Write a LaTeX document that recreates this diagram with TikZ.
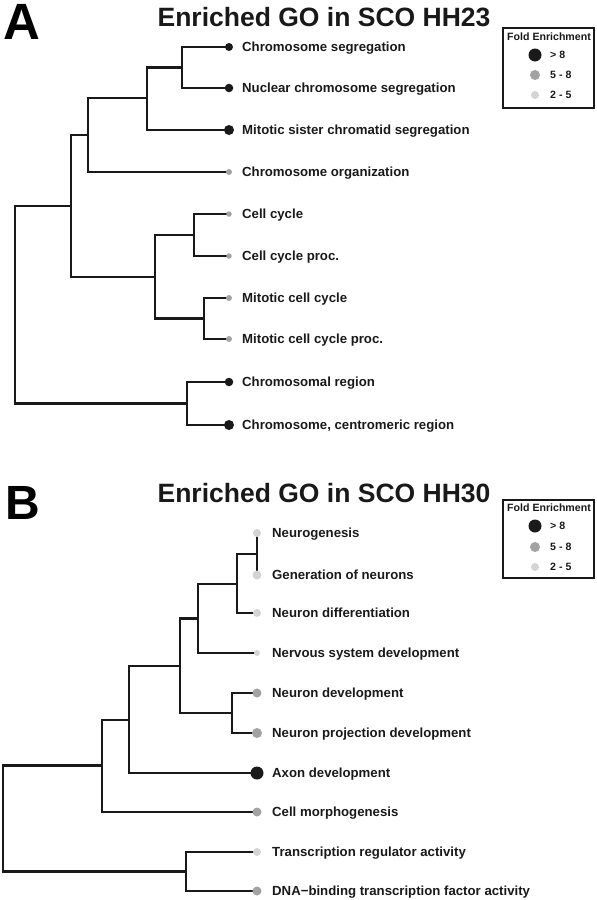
\documentclass[tikz,border=0pt]{standalone}
\usepackage{fontspec}
\setmainfont{Liberation Sans}
\usetikzlibrary{positioning,backgrounds}
\definecolor{fcHi}{HTML}{1A1A1A}
\definecolor{fcMid}{HTML}{A3A3A3}
\definecolor{fcLow}{HTML}{D4D4D4}
\tikzset{
  branch/.style={line width=2.3pt, black!90, line cap=rect},
  leafdot/.style={circle, inner sep=0pt, minimum size=#1},
  term/.style={font=\bfseries\fontsize{13.2}{14}\selectfont, text=black!90,
    inner sep=0pt, text height=9.5pt, text depth=0pt, anchor=west},
  heading/.style={font=\bfseries\fontsize{26.5}{28}\selectfont, text=black!90,
    inner sep=0pt, text height=19pt, text depth=0pt},
  panel/.style={font=\bfseries\fontsize{#1}{#1}\selectfont, inner sep=0pt,
    text height=0.716*#1 pt, text depth=0pt},
  legframe/.style={line width=2pt, black!90},
  keyhead/.style={font=\bfseries\fontsize{10.6}{12}\selectfont, text=black!90,
    inner sep=0pt, text height=7.6pt, text depth=0pt},
  keytext/.style={font=\bfseries\fontsize{10.6}{12}\selectfont, text=black!90,
    inner sep=0pt, text height=7.6pt, text depth=0pt, anchor=west}
}
\begin{document}
\begin{tikzpicture}[x=1pt, y=-1pt]
\useasboundingbox (0,0) rectangle (597,900);

% Panel A
\node[panel=51] (letA) at (21.5,21) {A};
\node[heading] (titleA) at (324,17) {Enriched GO in SCO HH23};

\node[leafdot=8pt, fill=fcHi] (a1) at (229,47) {};
\node[leafdot=8.5pt, fill=fcHi] (a2) at (229,88) {};
\node[leafdot=10pt, fill=fcHi] (a3) at (229,130) {};
\node[leafdot=6pt, fill=fcMid] (a4) at (229,172) {};
\node[leafdot=5.5pt, fill=fcMid] (a5) at (229,214) {};
\node[leafdot=5.5pt, fill=fcMid] (a6) at (229,256) {};
\node[leafdot=6pt, fill=fcMid] (a7) at (229,298) {};
\node[leafdot=6pt, fill=fcMid] (a8) at (229,339) {};
\node[leafdot=8.5pt, fill=fcHi] (a9) at (229,382) {};
\node[leafdot=10pt, fill=fcHi] (a10) at (229,425) {};

\node[term, right=13pt of a1.center] (ta1) {Chromosome segregation};
\node[term, right=13pt of a2.center] (ta2) {Nuclear chromosome segregation};
\node[term, right=13pt of a3.center] (ta3) {Mitotic sister chromatid segregation};
\node[term, right=13pt of a4.center] (ta4) {Chromosome organization};
\node[term, right=13pt of a5.center] (ta5) {Cell cycle};
\node[term, right=13pt of a6.center] (ta6) {Cell cycle proc.};
\node[term, right=13pt of a7.center] (ta7) {Mitotic cell cycle};
\node[term, right=13pt of a8.center] (ta8) {Mitotic cell cycle proc.};
\node[term, right=13pt of a9.center] (ta9) {Chromosomal region};
\node[term, right=13pt of a10.center] (ta10) {Chromosome, centromeric region};

\coordinate (ja1) at (182,67.5);
\coordinate (ja2) at (147,98);
\coordinate (ja3) at (88,135);
\coordinate (ja4) at (194,235);
\coordinate (ja5) at (204,318.5);
\coordinate (ja6) at (155,277);
\coordinate (ja7) at (71,206);
\coordinate (ja8) at (187,403.5);
\coordinate (ja0) at (15,305);

\begin{pgfonlayer}{background}
  \draw[branch] (ja1) |- (a1) (ja1) |- (a2);
  \draw[branch] (ja2) |- (ja1) (ja2) |- (a3);
  \draw[branch] (ja3) |- (ja2) (ja3) |- (a4);
  \draw[branch] (ja4) |- (a5) (ja4) |- (a6);
  \draw[branch] (ja5) |- (a7) (ja5) |- (a8);
  \draw[branch] (ja6) |- (ja4) (ja6) |- (ja5);
  \draw[branch] (ja7) |- (ja3) (ja7) |- (ja6);
  \draw[branch] (ja8) |- (a9) (ja8) |- (a10);
  \draw[branch] (ja0) |- (ja7) (ja0) |- (ja8);
\end{pgfonlayer}

% Legend A
\begin{scope}[shift={(503,28)}]
  \draw[legframe] (0,0) rectangle (91,80);
  \node[keyhead] (keyA) at (46,9) {Fold Enrichment};
  \node[leafdot=13pt, fill=fcHi] (kA1) at (32,27) {};
  \node[leafdot=10pt, fill=fcMid] (kA2) at (32,47) {};
  \node[leafdot=8pt, fill=fcLow] (kA3) at (32,67) {};
  \node[keytext, right=15pt of kA1.center] {> 8};
  \node[keytext, right=15pt of kA2.center] {5 - 8};
  \node[keytext, right=15pt of kA3.center] {2 - 5};
\end{scope}

% Panel B
\node[panel=48] (letB) at (22.5,502) {B};
\node[heading] (titleB) at (324,493) {Enriched GO in SCO HH30};

\node[leafdot=8pt, fill=fcLow] (b1) at (257,533) {};
\node[leafdot=9pt, fill=fcLow] (b2) at (257,575) {};
\node[leafdot=8pt, fill=fcLow] (b3) at (257,613) {};
\node[leafdot=6pt, fill=fcLow] (b4) at (257,653) {};
\node[leafdot=9pt, fill=fcMid] (b5) at (257,693) {};
\node[leafdot=10pt, fill=fcMid] (b6) at (257,733) {};
\node[leafdot=13pt, fill=fcHi] (b7) at (257,773) {};
\node[leafdot=9pt, fill=fcMid] (b8) at (257,812) {};
\node[leafdot=8pt, fill=fcLow] (b9) at (257,852) {};
\node[leafdot=9pt, fill=fcMid] (b10) at (257,891) {};

\node[term, right=15pt of b1.center] (tb1) {Neurogenesis};
\node[term, right=15pt of b2.center] (tb2) {Generation of neurons};
\node[term, right=15pt of b3.center] (tb3) {Neuron differentiation};
\node[term, right=15pt of b4.center] (tb4) {Nervous system development};
\node[term, right=15pt of b5.center] (tb5) {Neuron development};
\node[term, right=15pt of b6.center] (tb6) {Neuron projection development};
\node[term, right=15pt of b7.center] (tb7) {Axon development};
\node[term, right=15pt of b8.center] (tb8) {Cell morphogenesis};
\node[term, right=15pt of b9.center] (tb9) {Transcription regulator activity};
\node[term, right=15pt of b10.center] (tb10) {DNA−binding transcription factor activity};

\coordinate (jb1) at (257,554);
\coordinate (jb2) at (237,584);
\coordinate (jb3) at (198,618.5);
\coordinate (jb4) at (232,713);
\coordinate (jb5) at (180,666);
\coordinate (jb6) at (129,720);
\coordinate (jb7) at (102,765.5);
\coordinate (jb8) at (186,871.5);
\coordinate (jb0) at (3,819);

\begin{pgfonlayer}{background}
  \draw[branch] (jb1) -- (b1) (jb1) -- (b2);
  \draw[branch] (jb2) |- (jb1) (jb2) |- (b3);
  \draw[branch] (jb3) |- (jb2) (jb3) |- (b4);
  \draw[branch] (jb4) |- (b5) (jb4) |- (b6);
  \draw[branch] (jb5) |- (jb3) (jb5) |- (jb4);
  \draw[branch] (jb6) |- (jb5) (jb6) |- (b7);
  \draw[branch] (jb7) |- (jb6) (jb7) |- (b8);
  \draw[branch] (jb8) |- (b9) (jb8) |- (b10);
  \draw[branch] (jb0) |- (jb7) (jb0) |- (jb8);
\end{pgfonlayer}

% Legend B
\begin{scope}[shift={(503,500)}]
  \draw[legframe] (0,0) rectangle (91,78);
  \node[keyhead] (keyB) at (46,8) {Fold Enrichment};
  \node[leafdot=13pt, fill=fcHi] (kB1) at (32,26) {};
  \node[leafdot=10pt, fill=fcMid] (kB2) at (32,47) {};
  \node[leafdot=8pt, fill=fcLow] (kB3) at (32,67) {};
  \node[keytext, right=15pt of kB1.center] {> 8};
  \node[keytext, right=15pt of kB2.center] {5 - 8};
  \node[keytext, right=15pt of kB3.center] {2 - 5};
\end{scope}
\end{tikzpicture}
\end{document}
